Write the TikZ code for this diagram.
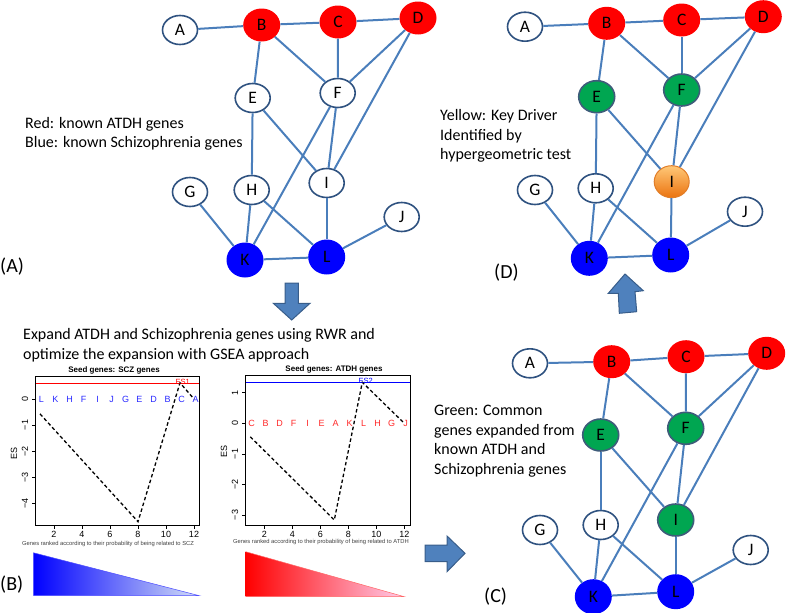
\documentclass[tikz,border=0pt]{standalone}
\usepackage{fontspec}
\setmainfont{Carlito}
\newfontfamily\plotfont{Liberation Sans}
\usetikzlibrary{shapes.geometric}

\definecolor{edgec}{RGB}{74,126,187}
\definecolor{rimc}{RGB}{47,82,128}
\definecolor{nodered}{RGB}{255,0,0}
\definecolor{nodeblue}{RGB}{0,0,255}
\definecolor{nodegreen}{RGB}{0,166,81}
\definecolor{greenrim}{RGB}{62,92,122}
\definecolor{arrowfill}{RGB}{79,129,189}
\definecolor{arrowrim}{RGB}{56,93,138}
\definecolor{orangetop}{RGB}{255,200,120}
\definecolor{orangebot}{RGB}{235,115,15}
\definecolor{orangerim}{RGB}{225,125,40}
\definecolor{genblue}{RGB}{40,40,255}
\definecolor{genred}{RGB}{255,40,40}
\definecolor{lightblue}{RGB}{212,224,246}
\definecolor{lightpink}{RGB}{255,180,245}
\definecolor{paleink}{RGB}{255,205,235}

\tikzset{
  gnode/.style={ellipse, inner sep=0pt, font=\fontsize{17.5}{17.5}\selectfont},
  wnode/.style={gnode, draw=rimc, line width=1.6pt, fill=white, minimum width=35pt, minimum height=29pt},
  rnode/.style={gnode, fill=nodered, minimum width=37pt, minimum height=33pt},
  bnode/.style={gnode, fill=nodeblue, minimum width=37pt, minimum height=35pt},
  gnnode/.style={gnode, fill=nodegreen, draw=greenrim, line width=1.6pt, minimum width=36pt, minimum height=32pt},
  onode/.style={gnode, top color=orangetop, bottom color=orangebot, draw=orangerim, line width=1pt, minimum width=35pt, minimum height=32pt},
  edge/.style={draw=edgec, line width=2pt},
  blockarrow/.style={fill=arrowfill, draw=arrowrim, line width=1pt, line join=miter},
  legend/.style={align=left, anchor=west, inner sep=0pt, font=\fontsize{16}{19.5}\selectfont},
  panel/.style={anchor=west, inner sep=0pt, font=\fontsize{20}{20}\selectfont},
  plottitle/.style={font=\plotfont\bfseries\fontsize{8}{8}\selectfont, inner sep=0pt},
  ticklab/.style={font=\plotfont\fontsize{9}{9}\selectfont, inner sep=0pt},
  xlab/.style={font=\plotfont\fontsize{5.8}{6}\selectfont, inner sep=0pt, text=black!75},
  genelab/.style={font=\plotfont\fontsize{9}{9}\selectfont, inner sep=0pt},
  eslab/.style={font=\plotfont\fontsize{7.5}{8}\selectfont, inner sep=0pt},
  frame/.style={draw=black, line width=0.8pt},
  curve/.style={draw=black, line width=1.3pt, dash pattern=on 3.5pt off 2.5pt},
}

\begin{document}
\begin{tikzpicture}[x=1pt, y=-1pt]
\useasboundingbox (0,0) rectangle (787,613);

% ---------------- Graph A ----------------
\node[wnode] (aA) at (180,30) {A};
\node[rnode] (aB) at (261.7,25) {B};
\node[rnode] (aC) at (338,22) {C};
\node[rnode] (aD) at (418,18) {D};
\node[wnode] (aE) at (252.7,98) {E};
\node[wnode] (aF) at (337.7,93) {F};
\node[wnode] (aG) at (190,192) {G};
\node[wnode] (aH) at (251.7,190) {H};
\node[wnode] (aI) at (326.7,183) {I};
\node[wnode] (aJ) at (401.7,217) {J};
\node[bnode] (aK) at (245,260) {K};
\node[bnode] (aL) at (326.7,257) {L};

% ---------------- Graph D ----------------
\node[wnode] (dA) at (525,26.7) {A};
\node[rnode] (dB) at (606.7,23.3) {B};
\node[rnode] (dC) at (681.7,20) {C};
\node[rnode] (dD) at (763.3,16.7) {D};
\node[gnnode] (dE) at (596.7,96.7) {E};
\node[gnnode] (dF) at (681.7,90) {F};
\node[wnode] (dG) at (535,190) {G};
\node[wnode] (dH) at (595.7,188.3) {H};
\node[onode] (dI) at (671.7,181.7) {I};
\node[wnode] (dJ) at (745,211.7) {J};
\node[bnode] (dK) at (589.3,258.3) {K};
\node[bnode] (dL) at (670.7,255) {L};

% ---------------- Graph C ----------------
\node[wnode] (cA) at (530,363.3) {A};
\node[rnode] (cB) at (611.7,361.7) {B};
\node[rnode] (cC) at (686,356.7) {C};
\node[rnode] (cD) at (766.7,353.3) {D};
\node[gnnode] (cE) at (600.7,435) {E};
\node[gnnode] (cF) at (685.7,428.3) {F};
\node[wnode] (cG) at (540,530) {G};
\node[wnode] (cH) at (600.7,525) {H};
\node[gnnode] (cI) at (675.7,520) {I};
\node[wnode] (cJ) at (750.7,550) {J};
\node[bnode] (cK) at (593.3,596.7) {K};
\node[bnode] (cL) at (675.7,591.7) {L};

\foreach \g in {a,d,c}{
  \foreach \u/\v in {A/B,B/C,C/D,B/E,B/F,C/F,D/F,D/I,E/H,E/I,F/I,F/K,G/K,H/K,H/L,I/L,J/L,K/L}{
    \draw[edge] (\g\u) -- (\g\v);
  }
}

% ---------------- Texts ----------------
\node[legend] (legA) at (25,134) {Red: known ATDH genes\\Blue: known Schizophrenia genes};
\node[legend] (legD) at (440,136) {Yellow: Key Driver\\Identified by\\hypergeometric test};
\node[legend] (legC) at (434,441) {Green: Common\\genes expanded from\\known ATDH and\\Schizophrenia genes};
\node[legend] (legB) at (23,345) {Expand ATDH and Schizophrenia genes using RWR and\\optimize the expansion with GSEA approach};

\node[panel] (pA) at (0,266.7) {(A)};
\node[panel] (pB) at (0,585) {(B)};
\node[panel] (pC) at (484,596.7) {(C)};
\node[panel] (pD) at (494,273) {(D)};

% ---------------- Block arrows ----------------
\draw[blockarrow] (285,283) -- (298.3,283) -- (298.3,303.3) -- (310,303.3) -- (291.7,320) -- (273.3,303.3) -- (285,303.3) -- cycle;
\draw[blockarrow] (425,545) -- (447,545) -- (447,536) -- (465,553.3) -- (447,571.7) -- (447,561.7) -- (425,561.7) -- cycle;
\draw[blockarrow] (619.3,313.3) -- (618.3,293.3) -- (608.3,293.3) -- (625,274) -- (643.3,290.7) -- (635,291.7) -- (636.7,311.7) -- cycle;

% ---------------- Plot 1 (SCZ) ----------------
\node[plottitle] (t1) at (114,370.7) {Seed genes: SCZ genes};
\draw[red, line width=1pt] (35,383.3) -- (199.3,383.3);
\draw[frame] (35,376.7) rectangle (199.3,525);
\foreach \i in {2,4,...,12}{
  \draw[line width=0.6pt] ({40+14*(\i-1)},525) -- ({40+14*(\i-1)},528.5);
  \node[ticklab] at ({40+14*(\i-1)},534) {\i};
}
\foreach \e/\t in {0/0,-1/−1,-2/−2,-3/−3,-4/−4}{
  \draw[line width=0.6pt] (35,{399-26.1*\e}) -- (31.5,{399-26.1*\e});
  \node[ticklab, rotate=90] at (25,{399-26.1*\e}) {\t};
}
\node[ticklab, rotate=90] (es1y) at (14,453) {ES};
\node[xlab] (x1) at (108,544) {Genes ranked according to their probability of being related to SCZ};
\foreach \g [count=\i] in {L,K,H,F,I,J,G,E,D,B,C,A}{
  \node[genelab, text=genblue] at ({41.5+14*(\i-1)},399) {\g};
}
\draw[curve] (40,{399+26.1*0.57}) -- (138,{399+26.1*4.7}) -- (180,{399-26.1*0.62}) -- (194,399);
\node[eslab, text=red] (es1) at (182.7,382) {ES1};

% ---------------- Plot 2 (ATDH) ----------------
\node[plottitle] (t2) at (334,369.3) {Seed genes: ATDH genes};
\draw[blue, line width=1pt] (245,382.3) -- (410,382.3);
\draw[frame] (245,375) rectangle (410,525);
\foreach \i in {2,4,...,12}{
  \draw[line width=0.6pt] ({250.3+14*(\i-1)},525) -- ({250.3+14*(\i-1)},528.5);
  \node[ticklab] at ({250.3+14*(\i-1)},534) {\i};
}
\foreach \e/\t in {1/1,0/0,-1/−1,-2/−2,-3/−3}{
  \draw[line width=0.6pt] (245,{423.3-30.6*\e}) -- (241.5,{423.3-30.6*\e});
  \node[ticklab, rotate=90] at (235,{423.3-30.6*\e}) {\t};
}
\node[ticklab, rotate=90] (es2y) at (224,451.7) {ES};
\node[xlab] (x2) at (321,542) {Genes ranked according to their probability of being related to ATDH};
\foreach \g [count=\i] in {C,B,D,F,I,E,A,K,L,H,G,J}{
  \node[genelab, text=genred] at ({251.5+14*(\i-1)},423.3) {\g};
}
\draw[curve] (250.3,{423.3+30.6*0.44}) -- (334.3,{423.3+30.6*3.16}) -- (362.3,{423.3-30.6*1.34}) -- (404.3,423.3);
\node[eslab, text=blue] (es2) at (365.7,380.5) {ES2};

% ---------------- Gradient triangles ----------------
\shade[left color=blue, right color=lightblue] (33.3,552.7) -- (33.3,595.7) -- (199.3,595.7) -- cycle;
\draw[blue!70, line width=0.5pt] (33.3,552.7) -- (199.3,595.7) -- (33.3,595.7);
\shade[left color=red, middle color=lightpink, right color=paleink] (245.7,551.7) -- (245.7,596.7) -- (404.3,596.7) -- cycle;
\draw[red!60, line width=0.5pt] (245.7,551.7) -- (404.3,596.7) -- (245.7,596.7);
\end{tikzpicture}
\end{document}
